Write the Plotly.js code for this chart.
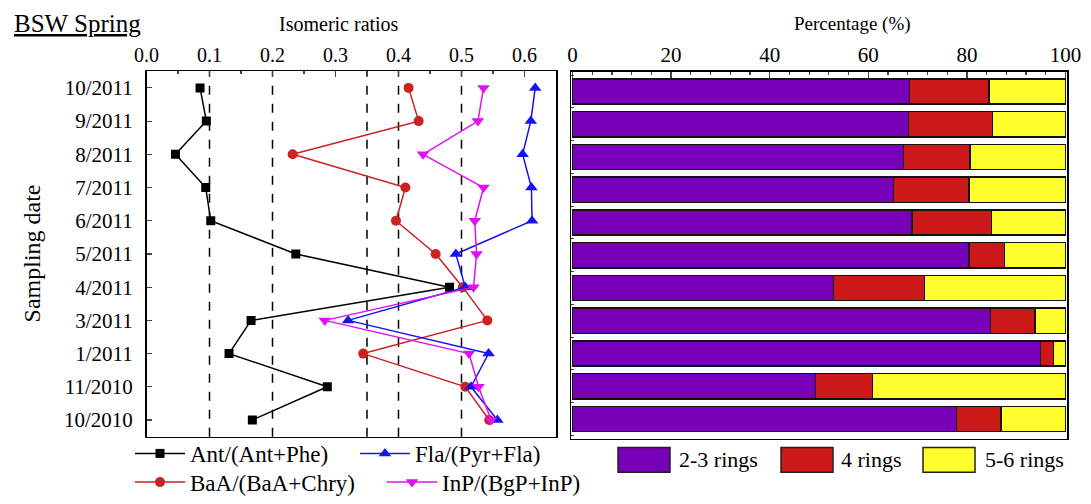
<!DOCTYPE html>
<html>
<head>
<meta charset="utf-8">
<script src="https://cdn.plot.ly/plotly-3.0.1.min.js"></script>
<style>html,body{margin:0;padding:0;background:#fff;}#chart{width:1091px;height:504px;}</style>
</head>
<body>
<div id="chart"></div>
<script>
// Sampling dates (bottom to top)
const dates = ["10/2010","11/2010","1/2011","3/2011","4/2011","5/2011","6/2011","7/2011","8/2011","9/2011","10/2011"];

// Isomeric ratios
const antPhe = [0.168, 0.287, 0.131, 0.166, 0.481, 0.237, 0.102, 0.094, 0.046, 0.095, 0.085];
const baaChry = [0.544, 0.506, 0.344, 0.541, 0.502, 0.459, 0.396, 0.411, 0.232, 0.432, 0.416];
const flaPyr = [0.557, 0.515, 0.543, 0.320, 0.506, 0.491, 0.612, 0.611, 0.597, 0.610, 0.617];
const inpBgp = [0.547, 0.527, 0.512, 0.283, 0.519, 0.524, 0.521, 0.535, 0.439, 0.526, 0.535];

// Diagnostic thresholds (dashed lines)
const thresholds = [0.1, 0.2, 0.35, 0.4, 0.5];

// Ring percentage (%)
const rings23 = [77.9, 49.3, 94.9, 84.8, 52.9, 80.4, 68.9, 65.1, 67.1, 68.2, 68.4];
const rings4  = [9.0, 11.5, 2.7, 9.0, 18.5, 7.2, 16.1, 15.3, 13.5, 17.0, 16.1];
const rings56 = [13.1, 39.2, 2.4, 6.2, 28.6, 12.4, 15.0, 19.6, 19.4, 14.8, 15.5];

const ringNames = ["2-3 rings", "4 rings", "5-6 rings"];
const ringColors = ["#7800b8", "#cc1818", "#ffff2e"];

const FONT = "Liberation Serif, Times New Roman, serif";

function lineTrace(name, vals, color, symbol, size, legend) {
  return {
    type: "scatter", mode: "lines+markers", name: name,
    x: vals, y: dates, xaxis: "x", yaxis: "y",
    line: {color: color, width: 1.5},
    marker: {color: color, symbol: symbol, size: size},
    legend: legend
  };
}

const ant = lineTrace("Ant/(Ant+Phe)", antPhe, "#000000", "square", 9, "legend");
const baa = lineTrace("BaA/(BaA+Chry)", baaChry, "#cc2222", "circle", 10, "legend2");
const fla = lineTrace("Fla/(Pyr+Fla)", flaPyr, "#1414f0", "triangle-up", 11, "legend");
const inp = lineTrace("InP/(BgP+InP)", inpBgp, "#e010f0", "triangle-down", 11, "legend2");
const drawOrder = [ant, baa, fla, inp];

const ringData = [rings23, rings4, rings56];
const barTraces = ringData.map((vals, i) => ({
  type: "bar", orientation: "h", name: ringNames[i],
  x: vals, y: dates, xaxis: "x2", yaxis: "y2",
  width: 0.77,
  marker: {color: ringColors[i], line: {color: "#111", width: 1.5}},
  showlegend: false
}));

const shapes = thresholds.map(t => ({
  type: "line", xref: "x", yref: "y domain", x0: t, x1: t, y0: 0, y1: 1,
  line: {color: "#000", width: 1.5, dash: "dash"}, layer: "below"
}));

// legend swatches for ring bars
const swatchX = [618, 781, 923];
const swatchText = [677, 839, 983];
ringNames.forEach((n, i) => {
  shapes.push({
    type: "rect", xref: "paper", yref: "paper",
    x0: swatchX[i] / 1091, x1: (swatchX[i] + 52) / 1091,
    y0: 1 - 477 / 504, y1: 1 - 452 / 504,
    fillcolor: ringColors[i], line: {color: "#222", width: 1.5}
  });
});

const annotations = [
  {text: "BSW Spring", xref: "paper", yref: "paper", x: 12 / 1091, y: 1 - 24 / 504,
   xanchor: "left", yanchor: "middle", showarrow: false,
   font: {family: FONT, size: 25, color: "#000", lineposition: "under"}},
  {text: "Isomeric ratios", xref: "paper", yref: "paper", x: 339 / 1091, y: 1 - 24 / 504,
   xanchor: "center", yanchor: "middle", showarrow: false,
   font: {family: FONT, size: 20, color: "#000"}},
  {text: "Percentage (%)", xref: "paper", yref: "paper", x: 852 / 1091, y: 1 - 24 / 504,
   xanchor: "center", yanchor: "middle", showarrow: false,
   font: {family: FONT, size: 19, color: "#000"}},
  {text: "Sampling date", xref: "paper", yref: "paper", x: 32 / 1091, y: 1 - 256 / 504,
   xanchor: "center", yanchor: "middle", textangle: -90, showarrow: false,
   font: {family: FONT, size: 24, color: "#000"}}
];
ringNames.forEach((n, i) => {
  annotations.push({
    text: n, xref: "paper", yref: "paper", x: swatchText[i] / 1091, y: 1 - 464 / 504,
    xanchor: "left", yanchor: "middle", showarrow: false,
    font: {family: FONT, size: 22, color: "#000"}
  });
});

const layout = {
  width: 1091, height: 504,
  margin: {l: 0, r: 0, t: 0, b: 0},
  paper_bgcolor: "#fff", plot_bgcolor: "#fff",
  font: {family: FONT, size: 20, color: "#000"},
  barmode: "stack",
  showlegend: true,
  xaxis: {
    domain: [146.5 / 1091, 556 / 1091], range: [0, 0.65], side: "top", anchor: "y",
    dtick: 0.1, tick0: 0, tickformat: ".1f", ticks: "inside", ticklen: 6, tickwidth: 1.2,
    minor: {dtick: 0.05, tick0: 0, ticks: "inside", ticklen: 3, tickwidth: 1.2},
    showline: true, mirror: true, linecolor: "#000", linewidth: 1.5,
    showgrid: false, zeroline: false, tickfont: {size: 20}
  },
  yaxis: {
    domain: [1 - 441 / 504, 1 - 72 / 504], type: "category", categoryorder: "array",
    categoryarray: dates, range: [-0.5, 10.5], anchor: "x",
    ticks: "inside", ticklen: 5, tickwidth: 1.2, ticklabelstandoff: 8,
    showline: true, mirror: true, linecolor: "#000", linewidth: 1.5,
    showgrid: false, zeroline: false, tickfont: {size: 21}
  },
  yaxis3: {
    domain: [1 - 441 / 504, 1 - 72 / 504], overlaying: "y", anchor: "x", side: "left",
    type: "linear", range: [-0.5, 10.5], tick0: 0.5, dtick: 1,
    ticks: "inside", ticklen: 3, tickwidth: 1.2, showticklabels: false,
    showline: false, showgrid: false, zeroline: false
  },
  xaxis2: {
    domain: [571 / 1091, 1067 / 1091], range: [-0.3, 100.3], side: "top", anchor: "y2",
    dtick: 20, tick0: 0, ticks: "inside", ticklen: 6, tickwidth: 1.2,
    minor: {dtick: 4, tick0: 0, ticks: "inside", ticklen: 3, tickwidth: 1.2},
    showline: true, mirror: true, linecolor: "#000", linewidth: 1.5,
    showgrid: false, zeroline: false, tickfont: {size: 21}
  },
  yaxis2: {
    domain: [1 - 443 / 504, 1 - 72.5 / 504], type: "category", categoryorder: "array",
    categoryarray: dates, range: [-0.6, 10.6], anchor: "x2",
    showticklabels: false, ticks: "inside", ticklen: 3, tickson: "boundaries",
    showline: true, mirror: true, linecolor: "#000", linewidth: 1.5,
    showgrid: false, zeroline: false
  },
  legend: {
    orientation: "h", traceorder: "normal", x: 130 / 1091, y: 1 - 458 / 504, xanchor: "left", yanchor: "middle",
    font: {family: FONT, size: 23}, itemwidth: 50, entrywidth: 160, bgcolor: "rgba(0,0,0,0)",
    tracegroupgap: 0
  },
  legend2: {
    orientation: "h", traceorder: "normal", x: 130 / 1091, y: 1 - 487 / 504, xanchor: "left", yanchor: "middle",
    font: {family: FONT, size: 23}, itemwidth: 50, entrywidth: 187, bgcolor: "rgba(0,0,0,0)",
    tracegroupgap: 0
  },
  shapes: shapes,
  annotations: annotations
};

Plotly.newPlot("chart", drawOrder.concat(barTraces), layout, {displayModeBar: false, staticPlot: true});
</script>
</body>
</html>
